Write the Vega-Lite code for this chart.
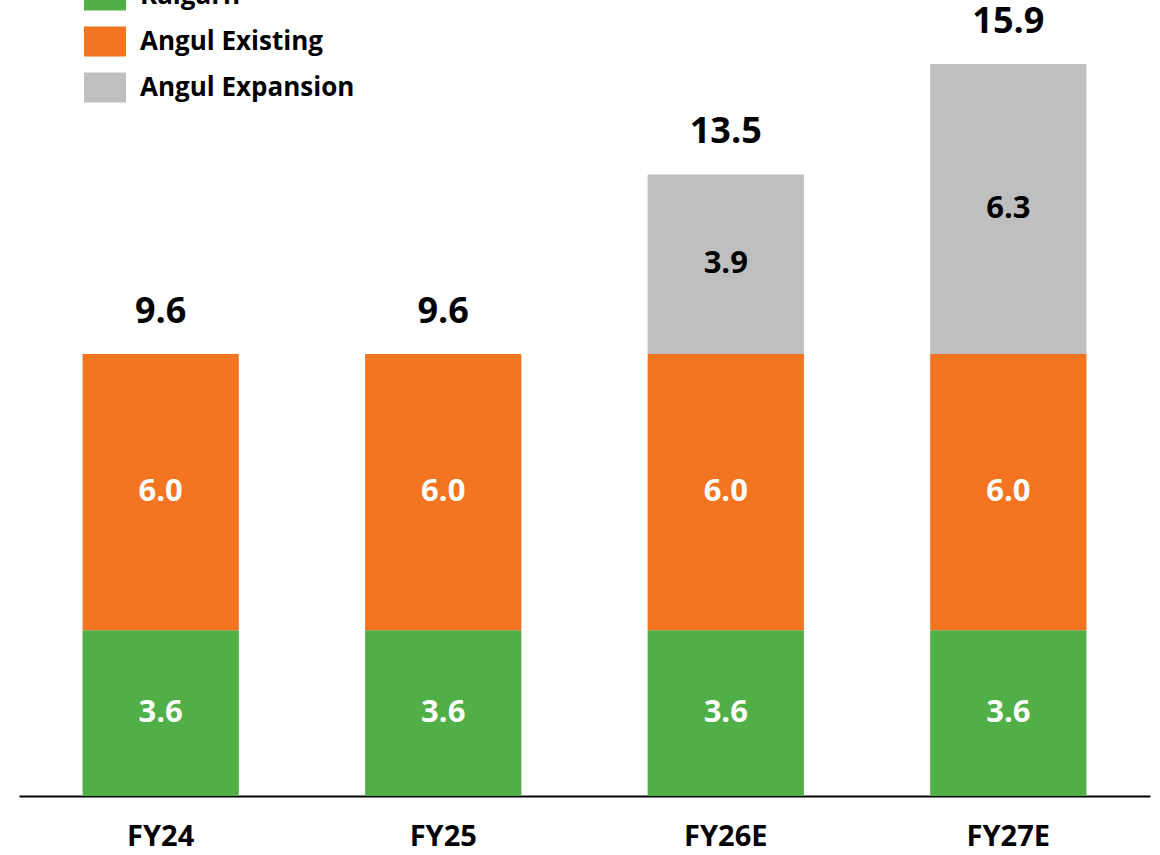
{
  "$schema": "https://vega.github.io/schema/vega-lite/v6.json",
  "width": 1131,
  "height": 796,
  "autosize": {"type": "none"},
  "padding": {"left": 19, "top": 0, "right": 10, "bottom": 59},
  "background": "white",
  "config": {"view": {"stroke": null}, "font": "Open Sans"},
  "data": {
    "values": [
      {"year": "FY24", "segment": "Raigarh", "seq": 1, "value": 3.6},
      {"year": "FY24", "segment": "Angul Existing", "seq": 2, "value": 6.0},
      {"year": "FY25", "segment": "Raigarh", "seq": 1, "value": 3.6},
      {"year": "FY25", "segment": "Angul Existing", "seq": 2, "value": 6.0},
      {"year": "FY26E", "segment": "Raigarh", "seq": 1, "value": 3.6},
      {"year": "FY26E", "segment": "Angul Existing", "seq": 2, "value": 6.0},
      {"year": "FY26E", "segment": "Angul Expansion", "seq": 3, "value": 3.9},
      {"year": "FY27E", "segment": "Raigarh", "seq": 1, "value": 3.6},
      {"year": "FY27E", "segment": "Angul Existing", "seq": 2, "value": 6.0},
      {"year": "FY27E", "segment": "Angul Expansion", "seq": 3, "value": 6.3}
    ]
  },
  "encoding": {
    "x": {
      "field": "year",
      "type": "nominal",
      "sort": ["FY24", "FY25", "FY26E", "FY27E"],
      "scale": {"paddingInner": 0.447, "paddingOuter": 0.225},
      "axis": {
        "title": null,
        "labelAngle": 0,
        "labelFont": "Open Sans",
        "labelFontSize": 29,
        "labelFontWeight": "bold",
        "labelColor": "black",
        "labelPadding": 26,
        "ticks": false,
        "domainColor": "black",
        "domainWidth": 2,
        "grid": false
      }
    }
  },
  "layer": [
    {
      "mark": {"type": "bar"},
      "encoding": {
        "y": {
          "field": "value",
          "type": "quantitative",
          "stack": "zero",
          "scale": {"domain": [0, 17.29], "nice": false},
          "axis": null
        },
        "order": {"field": "seq", "type": "quantitative", "sort": "ascending"},
        "color": {
          "field": "segment",
          "type": "nominal",
          "sort": ["Raigarh", "Angul Existing", "Angul Expansion"],
          "scale": {
            "domain": ["Raigarh", "Angul Existing", "Angul Expansion"],
            "range": ["#50AF47", "#F37421", "#BFBFBF"]
          },
          "legend": {
            "title": null,
            "orient": "none",
            "legendX": 65,
            "legendY": -25.5,
            "padding": 0,
            "symbolType": "M-1,-0.714H1V0.714H-1Z",
            "symbolSize": 1764,
            "symbolStrokeWidth": 0,
            "symbolOpacity": 1,
            "labelFont": "Open Sans",
            "labelFontSize": 26,
            "labelFontWeight": "bold",
            "labelColor": "black",
            "labelOffset": 14,
            "rowPadding": 10,
            "labelLimit": 400
          }
        }
      }
    },
    {
      "mark": {"type": "text", "fontSize": 31, "fontWeight": "bold", "baseline": "middle", "align": "center"},
      "encoding": {
        "y": {"field": "value", "type": "quantitative", "stack": "zero", "bandPosition": 0.5},
        "detail": {"field": "segment"},
        "order": {"field": "seq", "type": "quantitative", "sort": "ascending"},
        "text": {"field": "value", "type": "quantitative", "format": ".1f"},
        "color": {
          "condition": {"test": "datum.segment === 'Angul Expansion'", "value": "black"},
          "value": "white"
        }
      }
    },
    {
      "transform": [
        {"aggregate": [{"op": "sum", "field": "value", "as": "total"}], "groupby": ["year"]}
      ],
      "mark": {"type": "text", "fontSize": 36, "fontWeight": "bold", "baseline": "alphabetic", "align": "center", "dy": -31, "color": "black"},
      "encoding": {
        "y": {"field": "total", "type": "quantitative"},
        "text": {"field": "total", "type": "quantitative", "format": ".1f"}
      }
    }
  ]
}
